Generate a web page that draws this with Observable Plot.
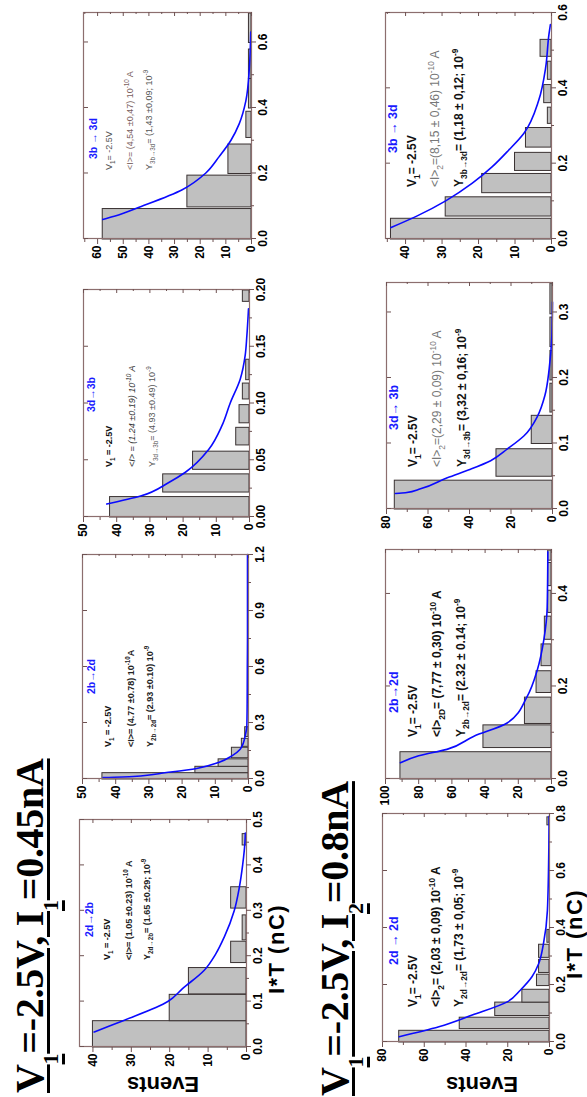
<!DOCTYPE html>
<html><head><meta charset="utf-8">
<script src="https://cdn.jsdelivr.net/npm/d3@7"></script>
<script src="https://cdn.jsdelivr.net/npm/@observablehq/plot@0.6"></script>
<style>
html,body{margin:0;padding:0;overflow:hidden;background:#fff;width:587px;height:1097px;}
#fig{position:absolute;left:0;top:0;width:1097px;height:587px;transform-origin:0 0;transform:translate(0px,1097px) rotate(-90deg);background:#fff;}
.title{position:absolute;font-family:"Liberation Serif","Times New Roman",serif;font-weight:bold;font-size:40px;line-height:40px;white-space:nowrap;color:#000;letter-spacing:-0.3px;}
.title .u{text-decoration:underline;text-decoration-thickness:3px;text-underline-offset:4px;}
.title .s{font-size:22px;vertical-align:-15px;}
.panel{position:absolute;}
#overlay{position:absolute;left:0;top:0;overflow:visible;}
</style></head><body><div id="fig"></div>
<script>
// ---------- DATA ----------
// Row 1: V1=-2.5V, I1=0.45nA
const p1Start = [0.000, 0.058, 0.117, 0.186, 0.236, 0.306, 0.445];
const p1End   = [0.058, 0.116, 0.175, 0.233, 0.291, 0.353, 0.470];
const p1Count = [40, 20, 15, 4, 1, 4, 1];
const p1FitX  = [0.032, 0.045, 0.058, 0.099, 0.128, 0.168, 0.204, 0.241, 0.299, 0.349, 0.400, 0.451, 0.470];
const p1FitY  = [39.7, 35.7, 31.8, 20.5, 16.6, 11.0, 8.0, 5.8, 3.2, 1.9, 1.0, 0.4, 0.3];

const p2Start = [0.000, 0.034, 0.068, 0.114, 0.175, 0.228];
const p2End   = [0.034, 0.068, 0.108, 0.170, 0.218, 0.280];
const p2Count = [44, 16, 9, 5, 2, 1];
const p2FitX  = [0.005, 0.011, 0.032, 0.054, 0.086, 0.121, 0.157, 0.193, 0.228, 0.282, 0.400, 0.600, 0.750, 0.900, 1.200];
const p2FitY  = [43.8, 34.7, 24.7, 15.6, 9.0, 5.0, 2.5, 1.5, 1.0, 0.5, 0.4, 0.35, 0.3, 0.3, 0.3];

const p3Start = [0.000, 0.022, 0.042, 0.0635, 0.083, 0.104, 0.121, 0.190];
const p3End   = [0.018, 0.038, 0.058, 0.079, 0.099, 0.118, 0.139, 0.200];
const p3Count = [42, 26, 17, 4, 3, 2, 1, 2];
const p3FitX  = [0.011, 0.018, 0.030, 0.039, 0.059, 0.080, 0.100, 0.121, 0.142, 0.159, 0.183];
const p3FitY  = [43.0, 32.8, 24.3, 19.3, 12.3, 8.3, 5.8, 2.8, 1.3, 0.8, 0.3];

const p4Start = [0.000, 0.098, 0.200, 0.310, 0.400, 0.490, 0.600];
const p4End   = [0.093, 0.195, 0.290, 0.390, 0.490, 0.580, 0.690];
const p4Count = [58, 25, 9, 2, 1, 1, 1];
const p4FitX  = [0.058, 0.068, 0.098, 0.149, 0.200, 0.250, 0.300, 0.350, 0.420, 0.525, 0.630];
const p4FitY  = [58.0, 53.5, 43.0, 27.0, 17.8, 12.6, 8.0, 4.8, 2.2, 0.8, 0.3];

// Row 2: V1=-2.5V, I2=0.8nA
const p5Start = [0.000, 0.047, 0.093, 0.140, 0.198, 0.244, 0.297, 0.350, 0.762];
const p5End   = [0.041, 0.087, 0.140, 0.185, 0.238, 0.290, 0.343, 0.395, 0.790];
const p5Count = [72, 43, 26, 13, 6, 5, 5, 1, 1];
const p5FitX  = [0.017, 0.052, 0.093, 0.140, 0.180, 0.227, 0.273, 0.343, 0.460, 0.690, 0.790];
const p5FitY  = [72, 53, 37, 20, 14, 8.4, 5.2, 2.9, 1.0, 0.3, 0.2];

const p6Start = [0.000, 0.068, 0.120, 0.187, 0.245, 0.302, 0.360, 0.418, 0.473];
const p6End   = [0.059, 0.117, 0.177, 0.234, 0.292, 0.352, 0.408, 0.468, 0.495];
const p6Count = [91, 41, 16, 9, 6, 4, 2, 2, 2];
const p6FitX  = [0.034, 0.049, 0.063, 0.091, 0.120, 0.177, 0.234, 0.300, 0.370, 0.490];
const p6FitY  = [91, 80, 63, 47, 26.7, 14.7, 8.6, 4.6, 2.6, 2.2];

const p7Start = [0.000, 0.050, 0.100, 0.148, 0.197, 0.248, 0.298];
const p7End   = [0.044, 0.092, 0.143, 0.192, 0.242, 0.293, 0.345];
const p7Count = [76, 27, 10, 1, 1, 1, 1];
const p7FitX  = [0.023, 0.024, 0.030, 0.047, 0.060, 0.073, 0.091, 0.111, 0.141, 0.172, 0.213, 0.264, 0.315];
const p7FitY  = [75.7, 70.9, 63.6, 50.7, 39.5, 29.8, 21.7, 13.7, 7.2, 3.7, 1.6, 0.3, 0.0];

const p8Start = [0.000, 0.061, 0.123, 0.182, 0.244, 0.307, 0.362, 0.424, 0.485];
const p8End   = [0.055, 0.112, 0.174, 0.230, 0.296, 0.350, 0.410, 0.472, 0.530];
const p8Count = [44, 29, 19, 10, 7, 1, 2, 1, 3];
const p8FitX  = [0.029, 0.060, 0.100, 0.147, 0.190, 0.235, 0.279, 0.367, 0.454, 0.542, 0.568];
const p8FitY  = [44, 36.8, 29, 21.7, 16.3, 11.7, 7.6, 3.5, 1.6, 0.7, 0.3];

// axis domains and tick labels
const xDomains = [[0,0.5],[0,1.2],[0,0.2],[0,0.69],[0,0.8],[0,0.495],[0,0.345],[0,0.6]];
const yDomains = [[0,43.5],[0,50],[0,50],[0,65.5],[0,80],[0,100],[0,80],[0,45.5]];
const xTicks = [[0,0.1,0.2,0.3,0.4,0.5],[0,0.3,0.6,0.9,1.2],[0,0.05,0.1,0.15,0.2],[0,0.2,0.4,0.6],
                [0,0.2,0.4,0.6,0.8],[0,0.2,0.4],[0,0.1,0.2,0.3],[0,0.2,0.4,0.6]];
const xMinor = [[0.05,0.15,0.25,0.35,0.45],[0.15,0.45,0.75,1.05],[0.025,0.075,0.125,0.175],[0.1,0.3,0.5],
                [0.1,0.3,0.5,0.7],[0.1,0.3],[0.05,0.15,0.25],[0.1,0.3,0.5]];
const xFormats = [".1f",".1f",".2f",".1f",".1f",".1f",".1f",".1f"];
const yTicks = [[0,10,20,30,40],[0,10,20,30,40,50],[0,10,20,30,40,50],[0,10,20,30,40,50,60],
                [0,20,40,60,80],[0,20,40,60,80,100],[0,20,40,60,80],[0,10,20,30,40]];
const yMinor = [[5,15,25,35],[5,15,25,35,45],[5,15,25,35,45],[5,15,25,35,45,55,65],
                [10,30,50,70],[10,30,50,70,90],[10,30,50,70],[5,15,25,35,45]];

// texts
const rowTitles = ["V_{1}=-2.5V, I_{1}=0.45nA", "V_{1}=-2.5V, I_{2}=0.8nA"];
const transitions = ["2d→2b","2b→2d","3d→3b","3b → 3d","2d → 2d","2b→2d","3d→ 3b","3b → 3d"];
const noteV = ["V_{1} = -2.5V","V_{1} = -2.5V","V_{1} = -2.5V","V_{1}= -2.5V","V_{1}= -2.5V","V_{1}= -2.5V","V_{1}= -2.5V","V_{1}= -2.5V"];
const noteI = ["<I>= (1.05 ±0.23) 10^{-10} A","<I>= (4.77 ±0.78) 10^{-10}A","<I> = (1.24 ±0.19) 10^{-10} A","<I>= (4,54 ±0,47) 10^{-10} A",
               "<I>_{2}= (2,03 ± 0,09) 10^{-10} A","<I>_{2D}= (7,77 ± 0,30) 10^{-10} A","<I>_{2}=(2,29 ± 0,09) 10^{-10} A","<I>_{2}=(8,15 ± 0,46) 10^{-10} A"];
const noteY = ["Y_{2d→2b}= (1.65 ±0.29; 10^{-9}","Y_{2b→2d}= (2.93 ±0.10) 10^{-9}","Y_{3d→3b}= (4.93 ±0.49) 10^{-9}","Y_{3b→3d}= (1,43 ±0,09; 10^{-9}",
               "Y_{2d→2d}= (1,73 ± 0,05; 10^{-9}","Y_{2b→2d}= (2.32 ± 0.14; 10^{-9}","Y_{3d→3b}= (3,32 ± 0,16; 10^{-9}","Y_{3b→3d}= (1,18 ± 0,12; 10^{-9}"];
const yLabel = "Events";
const xLabel = "I*T (nC)";

// ---------- LAYOUT (landscape coordinates, figure is rotated afterwards) ----------
const frames = [
  {L:50,T:79,R:277,B:246},{L:318,T:82,R:542,B:248},{L:580,T:83,R:807,B:249},{L:858,T:83,R:1084,B:251},
  {L:55,T:382,R:283,B:549},{L:318,T:385,R:547,B:551},{L:588,T:386,R:814,B:552},{L:858,T:385,R:1084,B:551}];
const noteLayout = [
  {hx:110,tx:87,rows:[14,31,53,71],fs:9,hs:10.5},
  {hx:85,tx:32,rows:[13,29,52,71],fs:9,hs:10.5},
  {hx:105,tx:50,rows:[12,29,52,72],fs:9,hs:10.5},
  {hx:80,tx:69,rows:[14,29,50,69],fs:9,hs:10.5},
  {hx:77,tx:35,rows:[16,35,58,81],fs:12,hs:12.5},
  {hx:66,tx:42,rows:[13,32,56,80],fs:12,hs:12.5},
  {hx:79,tx:42,rows:[12,31,55,80],fs:12,hs:12.5},
  {hx:86,tx:52,rows:[12,31,54,78],fs:12,hs:12.5}];
const noteStyles = [
  [{w:"bold",c:"#111"},{w:"bold",c:"#222"},{w:"bold",c:"#222"}],
  [{w:"bold",c:"#111"},{w:"bold",c:"#222"},{w:"bold",c:"#222"}],
  [{w:"bold",c:"#111"},{w:"normal",c:"#333",i:true},{w:"normal",c:"#555"}],
  [{w:"normal",c:"#555"},{w:"normal",c:"#7a6060"},{w:"normal",c:"#555"}],
  [{w:"bold",c:"#111"},{w:"bold",c:"#111"},{w:"bold",c:"#111"}],
  [{w:"bold",c:"#111"},{w:"bold",c:"#111"},{w:"bold",c:"#111"}],
  [{w:"bold",c:"#111"},{w:"normal",c:"#777"},{w:"bold",c:"#111"}],
  [{w:"bold",c:"#111"},{w:"normal",c:"#777"},{w:"bold",c:"#111"}]];

const series = [
  [p1Start,p1End,p1Count,p1FitX,p1FitY],[p2Start,p2End,p2Count,p2FitX,p2FitY],
  [p3Start,p3End,p3Count,p3FitX,p3FitY],[p4Start,p4End,p4Count,p4FitX,p4FitY],
  [p5Start,p5End,p5Count,p5FitX,p5FitY],[p6Start,p6End,p6Count,p6FitX,p6FitY],
  [p7Start,p7End,p7Count,p7FitX,p7FitY],[p8Start,p8End,p8Count,p8FitX,p8FitY]];

const fig = document.getElementById("fig");
const FONT = "'Liberation Sans', Arial, Helvetica, sans-serif";
const TICK = "#6e5252";
const mL = 50, mR = 12, mT = 12, mB = 46;

series.forEach(([s, e, n, fx, fy], k) => {
  const f = frames[k];
  const W = f.R - f.L, H = f.B - f.T;
  const bars = s.map((a, i) => ({a, b: e[i], lo: 0, n: n[i]}));
  const fit = fx.map((x, i) => ({x, y: fy[i]}));
  const none = () => "";
  const chart = Plot.plot({
    width: W + mL + mR, height: H + mT + mB,
    marginLeft: mL, marginRight: mR, marginTop: mT, marginBottom: mB,
    style: {fontFamily: FONT, fontSize: "12px", fontWeight: "bold", background: "transparent", overflow: "visible", color: "#000"},
    x: {domain: xDomains[k], label: null},
    y: {domain: yDomains[k], label: null},
    marks: [
      Plot.rect(bars, {x1: "a", x2: "b", y1: "lo", y2: "n", fill: "#c0c0c0", stroke: "#3a3232", strokeWidth: 1}),
      Plot.line(fit, {x: "x", y: "y", stroke: "#0a0aff", strokeWidth: 1.6, curve: "monotone-x"}),
      Plot.frame({stroke: "#8c6e6e", strokeWidth: 1.2}),
      Plot.axisX({ticks: xTicks[k], tickFormat: d3.format(xFormats[k]), tickSize: 5, tickPadding: 2, stroke: TICK, fill: "#000", label: null}),
      Plot.axisX({ticks: xMinor[k], tickFormat: none, tickSize: 3, stroke: TICK, label: null}),
      Plot.axisY({ticks: yTicks[k], tickFormat: d3.format("d"), tickSize: 5, tickPadding: 2, stroke: TICK, fill: "#000", label: null}),
      Plot.axisY({ticks: yMinor[k], tickFormat: none, tickSize: 3, stroke: TICK, label: null}),
      Plot.axisX({anchor: "top", ticks: xTicks[k], tickFormat: none, tickSize: -4, stroke: TICK, label: null}),
      Plot.axisY({anchor: "right", ticks: yTicks[k], tickFormat: none, tickSize: -4, stroke: TICK, label: null}),
      Plot.axisY({anchor: "right", ticks: yMinor[k], tickFormat: none, tickSize: -2, stroke: TICK, label: null})
    ]
  });
  const d = document.createElement("div");
  d.className = "panel";
  d.style.left = (f.L - mL) + "px";
  d.style.top = (f.T - mT) + "px";
  d.appendChild(chart);
  fig.appendChild(d);
});

// row titles (HTML, underlined with lowered subscripts)
function titleHTML(str) {
  return str.split(/(_\{[^}]*\})/).filter(t => t).map(t =>
    t.startsWith("_{") ? `<span class="u s">${t.slice(2, -1)}</span>` : `<span class="u">${t}</span>`).join("");
}
[[4, 9.5], [1, 315]].forEach(([x, y], r) => {
  const t = document.createElement("div");
  t.className = "title";
  t.style.left = x + "px";
  t.style.top = y + "px";
  t.innerHTML = titleHTML(rowTitles[r]);
  fig.appendChild(t);
});

// overlay with axis labels and annotations
const ov = d3.select(fig).append("svg").attr("id", "overlay").attr("width", 1097).attr("height", 587)
  .attr("font-family", FONT);

function rich(x, y, str, size, weight, color, italic) {
  const t = ov.append("text").attr("x", x).attr("y", y).attr("font-size", size)
    .attr("font-weight", weight).attr("fill", color).attr("font-style", italic ? "italic" : "normal");
  let off = 0;
  str.split(/(_\{[^}]*\}|\^\{[^}]*\})/).filter(p => p).forEach(p => {
    let shift = 0, fs = size, txt = p;
    if (p.startsWith("_{")) { shift = size * 0.3; fs = size * 0.7; txt = p.slice(2, -1); }
    else if (p.startsWith("^{")) { shift = -size * 0.45; fs = size * 0.7; txt = p.slice(2, -1); }
    t.append("tspan").attr("dy", shift - off).attr("font-size", fs).text(txt);
    off = shift;
  });
}

frames.forEach((f, k) => {
  const nl = noteLayout[k], st = noteStyles[k];
  rich(f.L + nl.hx, f.T + nl.rows[0], transitions[k], nl.hs, "bold", "#1a1aff");
  rich(f.L + nl.tx, f.T + nl.rows[1], noteV[k], nl.fs, st[0].w, st[0].c, st[0].i);
  rich(f.L + nl.tx, f.T + nl.rows[2], noteI[k], nl.fs, st[1].w, st[1].c, st[1].i);
  rich(f.L + nl.tx, f.T + nl.rows[3], noteY[k], nl.fs, st[2].w, st[2].c, st[2].i);
});

// axis titles on the left-most panels
[[20, 163, 148, 284], [20, 482, 163, 582]].forEach(([ex, ey, ix, iy]) => {
  ov.append("text").attr("transform", `translate(${ex},${ey}) rotate(-90)`).attr("text-anchor", "middle")
    .attr("font-size", 22).attr("font-weight", "bold").attr("fill", "#000").text(yLabel);
  ov.append("text").attr("x", ix).attr("y", iy).attr("text-anchor", "middle")
    .attr("font-size", 22).attr("font-weight", "bold").attr("letter-spacing", 1.5).attr("fill", "#000").text(xLabel);
});
</script></body></html>
